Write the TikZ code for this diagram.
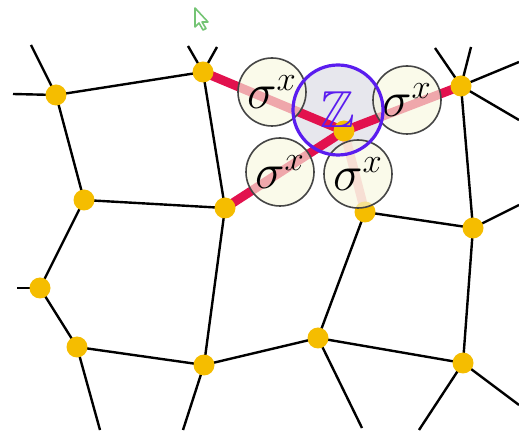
\documentclass[tikz,border=0pt]{standalone}
\usepackage{amssymb}
\usepackage{xcolor}
\usepackage{tikz}
\usetikzlibrary{backgrounds}
\definecolor{gold}     {HTML}{F5BD00}
\definecolor{bondred}  {HTML}{E2124E}
\definecolor{bondpink} {HTML}{F7B3C2}
\definecolor{spinbg}   {HTML}{F7F7DE}
\definecolor{spinrim}  {HTML}{454545}
\definecolor{zblue}    {HTML}{5A1CEF}
\definecolor{zfill}    {HTML}{E7E7ED}
\definecolor{cursorc}  {HTML}{74C474}
\tikzset{
  site/.style   = {circle, fill=gold, minimum size=10.5pt, inner sep=0pt},
  edge/.style   = {draw=black, line width=1.2pt},
  redbond/.style = {draw=bondred, line width=4.5pt},
  pinkbond/.style = {draw=bondpink, line width=4.5pt},
  spin/.style   = {circle, draw=spinrim, line width=0.8pt, fill=spinbg,
                   fill opacity=0.65, text opacity=1, minimum size=34pt,
                   inner sep=0pt, font=\fontsize{23}{25}\selectfont},
  plaq/.style   = {circle, draw=zblue, line width=1.6pt, minimum size=45pt,
                   inner sep=0pt, text=zblue, font=\fontsize{26}{28}\selectfont},
}

\begin{document}
\begin{tikzpicture}[x=0.5pt, y=-0.5pt]
  \useasboundingbox (0,0) rectangle (519,432);

  % lattice sites
  \node[site] (v1)  at (56,95)   {};
  \node[site] (v2)  at (203,72)  {};
  \node[site] (v3)  at (84,200)  {};
  \node[site] (v4)  at (225,208) {};
  \node[site] (c)   at (344,131) {};
  \node[site] (v5)  at (365,212) {};
  \node[site] (v6)  at (461,86)  {};
  \node[site] (v7)  at (473,228) {};
  \node[site] (v8)  at (40,288)  {};
  \node[site] (v9)  at (77,347)  {};
  \node[site] (v10) at (204,365) {};
  \node[site] (v11) at (318,338) {};
  \node[site] (v12) at (463,363) {};

  % loose ends
  \coordinate (s1a)  at (31,45);   \coordinate (s1b)  at (13,94);
  \coordinate (s2a)  at (188,46);  \coordinate (s2b)  at (217,47);
  \coordinate (s6a)  at (435,48);  \coordinate (s6b)  at (471,47);
  \coordinate (s6c)  at (519,62);  \coordinate (s6d)  at (519,120);
  \coordinate (s7)   at (519,205); \coordinate (s8)   at (17,288);
  \coordinate (s9)   at (100,430); \coordinate (s10)  at (183,430);
  \coordinate (s11)  at (362,428); \coordinate (s12a) at (419,430);
  \coordinate (s12b) at (519,405);

  % spin flips round the plaquette
  \node[spin] (sx1) at (272,92)  {$\sigma^x$};
  \node[spin] (sx2) at (407,100) {$\sigma^x$};
  \node[spin] (sx3) at (280,172) {$\sigma^x$};
  \node[spin] (sx4) at (358,174) {$\sigma^x$};
  \node[plaq] (zc)  at (338,110) {$\mathbb{Z}$};

  \begin{scope}[on background layer]
    \fill[zfill] (zc.center) circle (22.5pt);
    \draw[edge] (s1a) -- (v1.center) -- (s1b);
    \draw[edge] (s2a) -- (v2.center) -- (s2b);
    \draw[edge] (v1.center) -- (v2.center) -- (v4.center) -- (v3.center) -- (v1.center);
    \draw[edge] (v3.center) -- (v8.center) -- (v9.center) -- (v10.center) -- (v4.center);
    \draw[edge] (s8) -- (v8.center);
    \draw[edge] (v9.center) -- (s9);
    \draw[edge] (v10.center) -- (s10);
    \draw[edge] (v10.center) -- (v11.center) -- (v12.center) -- (v7.center) -- (v6.center);
    \draw[edge] (v11.center) -- (v5.center) -- (v7.center) -- (s7);
    \draw[edge] (v11.center) -- (s11);
    \draw[edge] (s12a) -- (v12.center) -- (s12b);
    \draw[edge] (s6a) -- (v6.center) -- (s6b);
    \draw[edge] (s6c) -- (v6.center) -- (s6d);
    \draw[redbond] (v2.center) -- (c.center) -- (v6.center);
    \draw[redbond] (v4.center) -- (c.center);
    \draw[pinkbond] (c.center) -- (v5.center);
  \end{scope}

  \draw[cursorc, line width=0.8pt, line join=round]
    (195,8) -- (195,27) -- (199,23) -- (203,30) -- (206,28.5) -- (202,22) -- (208,22) -- cycle;
\end{tikzpicture}
\end{document}
